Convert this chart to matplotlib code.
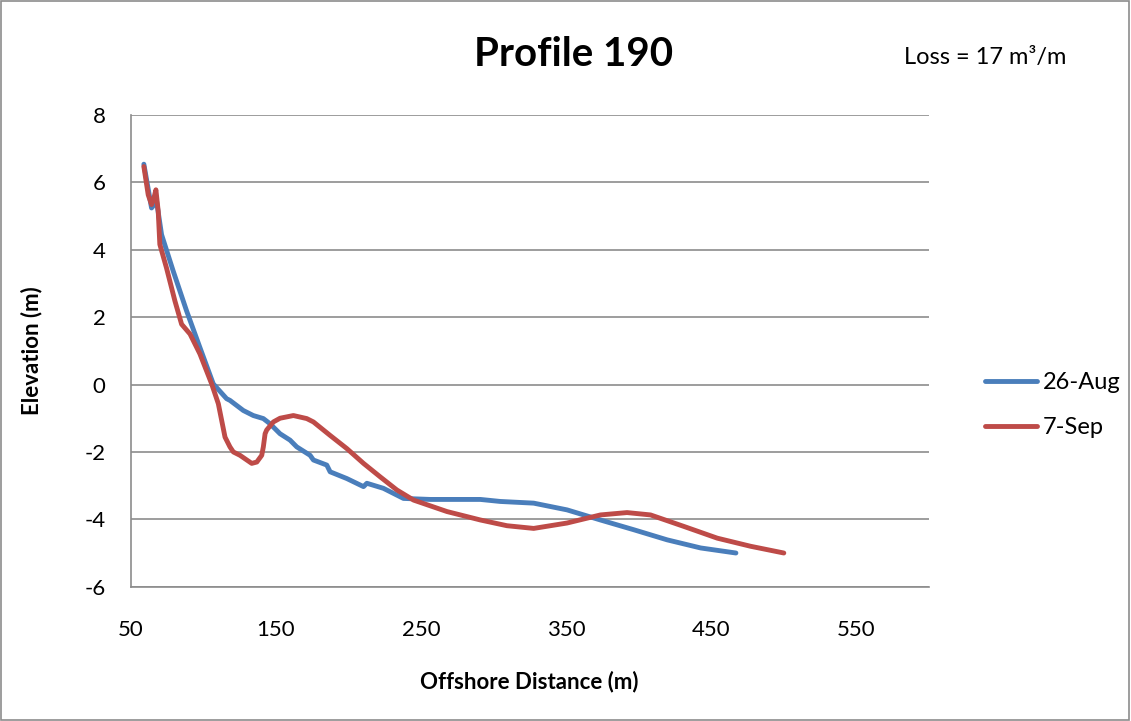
import matplotlib.pyplot as plt
from matplotlib.patches import Rectangle

# profile 190
aug_x = [59.2, 64.5, 68.0, 71.4, 79.4, 88.6, 97.8, 107.0, 116.2, 118.5, 127.7, 132.3,
         134.6, 141.5, 146.0, 153.0, 159.9, 164.5, 173.7, 176.0, 185.2, 187.5, 199.0,
         210.5, 212.8, 224.2, 238.0, 256.4, 291.0, 304.7, 327.7, 350.7, 373.7, 396.7,
         419.7, 442.7, 467.0]
aug_y = [6.54, 5.24, 5.43, 4.45, 3.37, 2.19, 1.10, 0.02, -0.42, -0.47, -0.77, -0.87,
         -0.92, -1.01, -1.16, -1.46, -1.65, -1.85, -2.10, -2.24, -2.39, -2.59, -2.79,
         -3.03, -2.93, -3.08, -3.38, -3.41, -3.41, -3.47, -3.52, -3.72, -4.02, -4.31,
         -4.61, -4.85, -5.00]

sep_x = [59.2, 62.2, 64.5, 66.1, 67.5, 69.1, 70.2, 74.8, 80.6, 85.2, 91.0, 97.8,
         105.9, 110.5, 115.1, 118.5, 120.8, 125.4, 133.5, 137.0, 140.4, 141.5, 142.7,
         143.8, 148.4, 153.0, 162.2, 171.4, 176.0, 187.5, 199.0, 210.5, 222.0, 233.5,
         245.0, 268.0, 291.0, 309.3, 327.7, 350.7, 373.7, 392.0, 408.2, 431.1, 454.2,
         477.1, 500.0]
sep_y = [6.47, 5.63, 5.34, 5.53, 5.78, 5.14, 4.16, 3.46, 2.48, 1.79, 1.50, 0.91,
         0.02, -0.57, -1.56, -1.85, -2.00, -2.10, -2.34, -2.30, -2.10, -1.85, -1.46,
         -1.35, -1.11, -1.00, -0.92, -1.01, -1.11, -1.51, -1.90, -2.34, -2.74, -3.13,
         -3.43, -3.77, -4.02, -4.19, -4.27, -4.11, -3.87, -3.80, -3.87, -4.21, -4.56,
         -4.80, -5.00]

xticks = [50, 150, 250, 350, 450, 550]
yticks = [-6, -4, -2, 0, 2, 4, 6, 8]

plt.rcParams['font.family'] = ['Lato', 'DejaVu Sans']
plt.rcParams['axes.unicode_minus'] = False

fig = plt.figure(figsize=(11.31, 7.21), dpi=100)
fig.patches.append(Rectangle((0.001, 0.001), 0.997, 0.997, transform=fig.transFigure,
                             fill=False, edgecolor='#8c8c8c', linewidth=1.2))
ax = fig.add_axes([130.5 / 1131, 1 - 586.7 / 721, (929 - 130.5) / 1131, (586.7 - 115) / 721])

ax.plot(aug_x, aug_y, color='#4a7ebb', lw=3.5, label='26-Aug', solid_capstyle='round')
ax.plot(sep_x, sep_y, color='#be4b48', lw=3.5, label='7-Sep', solid_capstyle='round')

ax.set_xlim(50, 600)
ax.set_ylim(-6, 8)
ax.set_xticks(xticks)
ax.set_yticks(yticks)
ax.grid(axis='y', color='#8c8c8c', lw=1.2)
ax.set_axisbelow(True)
for s in ['top', 'right']:
    ax.spines[s].set_visible(False)
for s in ['left', 'bottom']:
    ax.spines[s].set_color('#8c8c8c')
    ax.spines[s].set_linewidth(1.2)
ax.tick_params(labelsize=16, length=0)
ax.tick_params(axis='x', pad=24)
ax.tick_params(axis='y', pad=18)

ax.set_xlabel('Offshore Distance (m)', fontsize=16, fontweight='bold', labelpad=22)
ax.set_ylabel('Elevation (m)', fontsize=16, fontweight='bold', labelpad=30)

fig.text(0.5075, 0.924, 'Profile 190', fontsize=29, fontweight='bold', ha='center', va='center')
fig.text(0.871, 0.92, 'Loss = 17 m³/m', fontsize=17, ha='center', va='center')

ax.legend(loc='center left', bbox_to_anchor=(985 / 1131, 1 - 405 / 721),
          bbox_transform=fig.transFigure, frameon=False, fontsize=17,
          borderaxespad=0, borderpad=0,
          handlelength=2.2, labelspacing=1.0, handletextpad=0.25)

fig.savefig('out.png', dpi=100)
